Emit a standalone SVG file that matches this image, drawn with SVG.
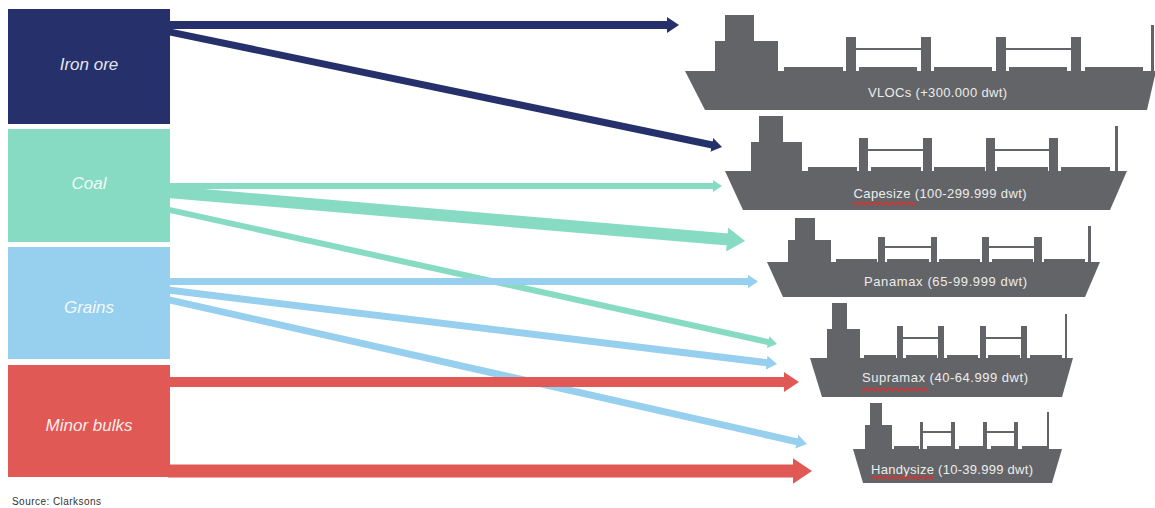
<svg xmlns="http://www.w3.org/2000/svg" width="1155" height="508" viewBox="0 0 1155 508">
  <style>
    .ship { fill: #636467; }
    .shiplabel { font-family: "Liberation Sans", Arial, sans-serif; font-size: 13px; fill: #ececec; text-anchor: middle; }
    .cat { font-family: "Liberation Sans", Arial, sans-serif; font-size: 17px; font-style: italic; fill: #ffffff; fill-opacity: 0.9; text-anchor: middle; }
    .squiggle { fill: none; stroke: #e0302b; stroke-width: 1.4; }
    .flow { fill: none; stroke-linecap: butt; }
    .iron { stroke: #26306a; }
    .coal { stroke: #88dbc3; }
    .grain { stroke: #97cfee; }
    .minor { stroke: #e05955; }
  </style>
  <defs>
    <marker id="head-iron" viewBox="0 0 1.5 2" markerUnits="strokeWidth" markerWidth="1.5" markerHeight="2" refX="0.1" refY="1" orient="auto">
      <path d="M0,0 L1.5,1 L0,2 Z" fill="#26306a"/>
    </marker>
    <marker id="head-coal" viewBox="0 0 1.5 2" markerUnits="strokeWidth" markerWidth="1.5" markerHeight="2" refX="0.1" refY="1" orient="auto">
      <path d="M0,0 L1.5,1 L0,2 Z" fill="#88dbc3"/>
    </marker>
    <marker id="head-grain" viewBox="0 0 1.5 2" markerUnits="strokeWidth" markerWidth="1.5" markerHeight="2" refX="0.1" refY="1" orient="auto">
      <path d="M0,0 L1.5,1 L0,2 Z" fill="#97cfee"/>
    </marker>
    <marker id="head-minor" viewBox="0 0 1.5 2" markerUnits="strokeWidth" markerWidth="1.5" markerHeight="2" refX="0.1" refY="1" orient="auto">
      <path d="M0,0 L1.5,1 L0,2 Z" fill="#e05955"/>
    </marker>
  </defs>

  <rect width="1155" height="508" fill="#ffffff"/>

  <!-- cargo flows from commodity to vessel class -->
  <g id="connectors">
    <line class="flow iron" stroke-width="8" x1="168" y1="25" x2="667.8" y2="25" marker-end="url(#head-iron)"/>
    <line class="flow iron" stroke-width="7" x1="168" y1="31.6" x2="712.4" y2="145" marker-end="url(#head-iron)"/>
    <line class="flow coal" stroke-width="6" x1="168" y1="186" x2="713.6" y2="186" marker-end="url(#head-coal)"/>
    <line class="flow coal" stroke-width="12" x1="168" y1="192" x2="728.3" y2="239.6" marker-end="url(#head-coal)"/>
    <line class="flow coal" stroke-width="6" x1="168" y1="209.6" x2="768.8" y2="342.2" marker-end="url(#head-coal)"/>
    <line class="flow grain" stroke-width="7" x1="168" y1="281.5" x2="748.2" y2="281.5" marker-end="url(#head-grain)"/>
    <line class="flow grain" stroke-width="7" x1="168" y1="290" x2="767.3" y2="362.8" marker-end="url(#head-grain)"/>
    <line class="flow grain" stroke-width="7" x1="168" y1="299.6" x2="797.4" y2="441.8" marker-end="url(#head-grain)"/>
    <line class="flow minor" stroke-width="10" x1="168" y1="382" x2="785" y2="382" marker-end="url(#head-minor)"/>
    <line class="flow minor" stroke-width="13" x1="168" y1="471" x2="793.8" y2="471" marker-end="url(#head-minor)"/>
  </g>

  <!-- commodity boxes -->
  <g id="iron-ore">
    <rect x="8" y="9" width="162" height="115" fill="#26306a"/>
    <text class="cat" x="89" y="70">Iron ore</text>
  </g>
  <g id="coal">
    <rect x="8" y="129" width="162" height="113" fill="#88dbc3"/>
    <text class="cat" x="89" y="189">Coal</text>
  </g>
  <g id="grains">
    <rect x="8" y="247" width="162" height="112" fill="#97cfee"/>
    <text class="cat" x="89" y="313">Grains</text>
  </g>
  <g id="minor-bulks">
    <rect x="8" y="365" width="162" height="112" fill="#e05955"/>
    <text class="cat" x="89" y="431">Minor bulks</text>
  </g>

  <!-- vessel silhouettes -->
  <g id="vlocs" class="ship">
    <polygon points="685,71 1156,71 1147,110 705,110"/>
    <rect x="715" y="41" width="63" height="30"/>
    <rect x="725" y="15" width="29" height="26"/>
    <rect x="784" y="67" width="59" height="4"/>
    <rect x="859" y="67" width="58" height="4"/>
    <rect x="934" y="67" width="58" height="4"/>
    <rect x="1009" y="67" width="58" height="4"/>
    <rect x="1085" y="67" width="58" height="4"/>
    <rect x="846" y="37" width="10" height="34"/>
    <rect x="921" y="37" width="10" height="34"/>
    <rect x="996" y="37" width="10" height="34"/>
    <rect x="1071" y="37" width="10" height="34"/>
    <rect x="856" y="48" width="65" height="2"/>
    <rect x="1006" y="48" width="65" height="2"/>
    <rect x="1151" y="25" width="3" height="46"/>
    <text class="shiplabel" x="937.5" y="97" textLength="139">VLOCs (+300.000 dwt)</text>
  </g>

  <g id="capesize" class="ship">
    <polygon points="725,171 1127,171 1110,210 743,210"/>
    <rect x="751" y="142" width="51" height="29"/>
    <rect x="759" y="116" width="24" height="26"/>
    <rect x="808" y="167" width="49" height="4"/>
    <rect x="871" y="167" width="50" height="4"/>
    <rect x="934" y="167" width="51" height="4"/>
    <rect x="997" y="167" width="51" height="4"/>
    <rect x="1061" y="167" width="49" height="4"/>
    <rect x="859" y="138" width="9" height="33"/>
    <rect x="923" y="138" width="9" height="33"/>
    <rect x="986" y="138" width="9" height="33"/>
    <rect x="1049" y="138" width="9" height="33"/>
    <rect x="868" y="149" width="55" height="2"/>
    <rect x="995" y="149" width="54" height="2"/>
    <rect x="1115" y="126" width="3" height="45"/>
    <text class="shiplabel" x="940" y="198" textLength="173">Capesize (100-299.999 dwt)</text>
    <path class="squiggle" d="M853,205 l3,-3 l3,3 l3,-3 l3,3 l3,-3 l3,3 l3,-3 l3,3 l3,-3 l3,3 l3,-3 l3,3 l3,-3 l3,3 l3,-3 l3,3 l3,-3 l3,3 l3,-3 l3,3 l3,-3"/>
  </g>

  <g id="panamax" class="ship">
    <polygon points="767,262 1100,262 1085,297 783,297"/>
    <rect x="788" y="240" width="43" height="22"/>
    <rect x="795" y="218" width="20" height="22"/>
    <rect x="836" y="259" width="41" height="3"/>
    <rect x="887" y="259" width="42" height="3"/>
    <rect x="939" y="259" width="41" height="3"/>
    <rect x="992" y="259" width="41" height="3"/>
    <rect x="1044" y="259" width="41" height="3"/>
    <rect x="878" y="237" width="7" height="25"/>
    <rect x="931" y="237" width="6" height="25"/>
    <rect x="982" y="237" width="7" height="25"/>
    <rect x="1034" y="237" width="8" height="25"/>
    <rect x="885" y="246" width="46" height="2"/>
    <rect x="989" y="246" width="45" height="2"/>
    <rect x="1088" y="226" width="3" height="36"/>
    <text class="shiplabel" x="945.5" y="286" textLength="163">Panamax (65-99.999 dwt)</text>
  </g>

  <g id="supramax" class="ship">
    <polygon points="810,358 1073,358 1062,397 822,397"/>
    <rect x="827" y="329" width="33" height="29"/>
    <rect x="832" y="303" width="15" height="26"/>
    <rect x="864" y="355" width="32" height="3"/>
    <rect x="906" y="355" width="31" height="3"/>
    <rect x="947" y="355" width="31" height="3"/>
    <rect x="988" y="355" width="32" height="3"/>
    <rect x="1030" y="355" width="32" height="3"/>
    <rect x="897" y="326" width="6" height="32"/>
    <rect x="938" y="326" width="6" height="32"/>
    <rect x="980" y="326" width="6" height="32"/>
    <rect x="1021" y="326" width="6" height="32"/>
    <rect x="903" y="337" width="35" height="2"/>
    <rect x="986" y="337" width="35" height="2"/>
    <rect x="1065" y="314" width="2" height="44"/>
    <text class="shiplabel" x="945" y="382" textLength="166">Supramax (40-64.999 dwt)</text>
    <path class="squiggle" d="M862,391 l3,-3 l3,3 l3,-3 l3,3 l3,-3 l3,3 l3,-3 l3,3 l3,-3 l3,3 l3,-3 l3,3 l3,-3 l3,3 l3,-3 l3,3 l3,-3 l3,3 l3,-3 l3,3 l3,-3 l3,3"/>
  </g>

  <g id="handysize" class="ship">
    <polygon points="853,449 1062,449 1052,483 863,483"/>
    <rect x="865" y="425" width="27" height="24"/>
    <rect x="870" y="403" width="12" height="22"/>
    <rect x="894" y="446" width="25" height="3"/>
    <rect x="927" y="446" width="24" height="3"/>
    <rect x="959" y="446" width="24" height="3"/>
    <rect x="991" y="446" width="23" height="3"/>
    <rect x="1022" y="446" width="25" height="3"/>
    <rect x="920" y="422" width="3" height="27"/>
    <rect x="951" y="422" width="4" height="27"/>
    <rect x="983" y="422" width="4" height="27"/>
    <rect x="1014" y="422" width="4" height="27"/>
    <rect x="923" y="431" width="28" height="2"/>
    <rect x="987" y="431" width="27" height="2"/>
    <rect x="1047" y="412" width="2" height="37"/>
    <text class="shiplabel" x="952" y="474" textLength="162">Handysize (10-39.999 dwt)</text>
    <path class="squiggle" d="M871,479 l3,-3 l3,3 l3,-3 l3,3 l3,-3 l3,3 l3,-3 l3,3 l3,-3 l3,3 l3,-3 l3,3 l3,-3 l3,3 l3,-3 l3,3 l3,-3 l3,3 l3,-3 l3,3 l3,-3"/>
  </g>

  <text x="12" y="505" font-family="Liberation Sans, Arial, sans-serif" font-size="10" fill="#333333" textLength="89">Source: Clarksons</text>
</svg>
